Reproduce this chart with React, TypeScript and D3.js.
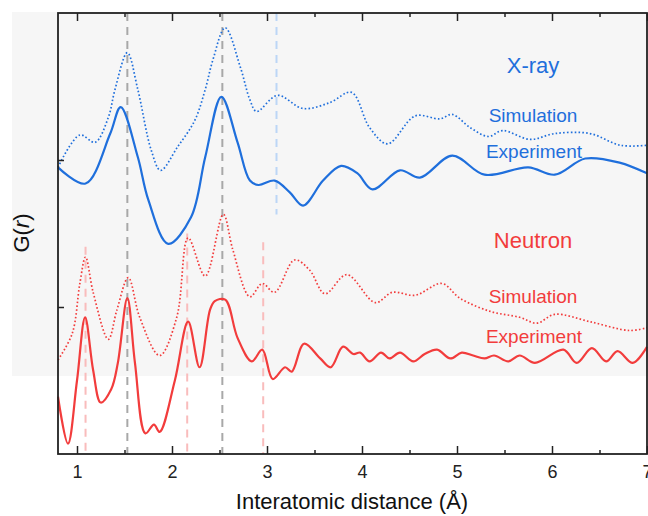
import React, { useEffect, useRef } from "react";
import * as d3 from "d3";

// G(r) curves: [r (Å), G(r) offset units]
const xraySim: [number, number][] = [
  [0.8, 0.95], [1.03, 1.17], [1.19, 1.12], [1.33, 1.29], [1.4, 1.48], [1.53, 1.73],
  [1.64, 1.48], [1.78, 1.07], [1.88, 0.93], [2.06, 1.09], [2.24, 1.27], [2.35, 1.48],
  [2.43, 1.68], [2.56, 1.9], [2.72, 1.63], [2.82, 1.41], [2.89, 1.33], [3.11, 1.44],
  [3.38, 1.35], [3.66, 1.39], [3.89, 1.46], [4.08, 1.22], [4.27, 1.11], [4.56, 1.3],
  [4.82, 1.28], [4.95, 1.31], [5.14, 1.22], [5.33, 1.16], [5.48, 1.2], [5.77, 1.14],
  [6.03, 1.18], [6.4, 1.18], [6.72, 1.1], [7.0, 1.1],
];
const xrayExp: [number, number][] = [
  [0.8, 0.95], [1.09, 0.84], [1.35, 1.18], [1.46, 1.36], [1.64, 1.02], [1.75, 0.73],
  [1.96, 0.43], [2.2, 0.61], [2.35, 1.02], [2.52, 1.43], [2.69, 1.12], [2.82, 0.86],
  [2.91, 0.83], [3.08, 0.86], [3.24, 0.78], [3.38, 0.69], [3.59, 0.86], [3.78, 0.96],
  [3.95, 0.91], [4.11, 0.8], [4.4, 0.93], [4.61, 0.88], [4.95, 1.03], [5.29, 0.9],
  [5.75, 0.95], [6.03, 0.9], [6.35, 1.01], [6.72, 0.98], [7.0, 0.91],
];
const neutronSim: [number, number][] = [
  [0.8, -0.36], [0.95, -0.18], [1.03, 0.16], [1.09, 0.34], [1.17, 0.1], [1.33, -0.22],
  [1.42, -0.02], [1.54, 0.2], [1.66, -0.07], [1.87, -0.33], [2.05, -0.07], [2.17, 0.47],
  [2.35, 0.21], [2.54, 0.63], [2.64, 0.39], [2.82, 0.07], [2.95, 0.16], [3.08, 0.1],
  [3.29, 0.32], [3.45, 0.25], [3.61, 0.09], [3.84, 0.22], [4.14, 0.03], [4.32, 0.1],
  [4.56, 0.08], [4.84, 0.16], [5.03, 0.06], [5.35, -0.03], [5.66, -0.07], [5.84, -0.11],
  [6.03, -0.05], [6.4, -0.1], [6.82, -0.16], [7.0, -0.14],
];
const neutronExp: [number, number][] = [
  [0.8, -0.61], [0.905, -0.93], [1.0, -0.5], [1.085, -0.07], [1.17, -0.43], [1.25, -0.65],
  [1.36, -0.56], [1.43, -0.38], [1.53, 0.06], [1.61, -0.38], [1.72, -0.86], [1.81, -0.8],
  [1.87, -0.85], [2.03, -0.5], [2.17, -0.1], [2.29, -0.41], [2.4, -0.02], [2.45, 0.04],
  [2.56, 0.05], [2.69, -0.21], [2.84, -0.37], [2.95, -0.29], [3.06, -0.49], [3.19, -0.41],
  [3.26, -0.44], [3.39, -0.25], [3.56, -0.35], [3.67, -0.41], [3.8, -0.27], [3.91, -0.32],
  [3.98, -0.31], [4.08, -0.37], [4.2, -0.31], [4.29, -0.35], [4.4, -0.31], [4.54, -0.37],
  [4.66, -0.32], [4.79, -0.29], [4.93, -0.35], [5.05, -0.31], [5.17, -0.33], [5.29, -0.35],
  [5.39, -0.33], [5.54, -0.37], [5.66, -0.33], [5.82, -0.38], [6.12, -0.29], [6.26, -0.38],
  [6.42, -0.28], [6.57, -0.37], [6.69, -0.3], [6.85, -0.38], [7.0, -0.27],
];

// reference lines: r, top G, bottom G
const grayMarks: [number, number, number][] = [[1.53, 2, -1], [2.53, 2, -1]];
const blueMarks: [number, number, number][] = [[3.1, 2, 0.63]];
const pinkMarks: [number, number, number][] = [[1.09, 0.41, -1], [2.16, 0.5, -1], [2.96, 0.44, -1]];

const majorTicks = [1, 2, 3, 4, 5, 6, 7];
const minorTicks = [1.5, 2.5, 3.5, 4.5, 5.5, 6.5];
const yTicks = [0, 1];

const BLUE = "#1f6fdc";
const RED = "#f23c3c";
const FONT = "'Liberation Sans', Arial, sans-serif";

const W = 648, H = 516;
const left = 58, right = 647, top = 13, bottom = 454;

export default function App() {
  const axRef = useRef<SVGGElement>(null);

  const x = d3.scaleLinear().domain([0.8, 7.0]).range([left, right]);
  const y = d3.scaleLinear().domain([-1, 2]).range([bottom, top]);

  const line = d3
    .line<[number, number]>()
    .x((d) => x(d[0]))
    .y((d) => y(d[1]))
    .curve(d3.curveCatmullRom.alpha(0.5));

  useEffect(() => {
    const g = d3.select(axRef.current);
    g.selectAll("*").remove();

    const bx = g.append("g").attr("transform", `translate(0,${bottom})`)
      .call(d3.axisBottom(x).tickValues(majorTicks).tickSize(-8).tickPadding(11).tickFormat(d3.format("d")));
    g.append("g").attr("transform", `translate(0,${bottom})`)
      .call(d3.axisBottom(x).tickValues(minorTicks).tickSize(-4).tickFormat(() => ""));
    g.append("g").attr("transform", `translate(0,${top})`)
      .call(d3.axisTop(x).tickValues(majorTicks).tickSize(-8).tickFormat(() => ""));
    g.append("g").attr("transform", `translate(0,${top})`)
      .call(d3.axisTop(x).tickValues(minorTicks).tickSize(-4).tickFormat(() => ""));
    g.append("g").attr("transform", `translate(${left},0)`)
      .call(d3.axisLeft(y).tickValues(yTicks).tickSize(-6).tickFormat(() => ""));

    g.selectAll(".domain").remove();
    g.selectAll(".tick line").attr("stroke", "#222").attr("stroke-width", 1.5);
    bx.selectAll("text").attr("font-size", 18).attr("font-family", FONT).attr("fill", "#222");
  }, []);

  const vline = (m: [number, number, number], color: string, i: number) => (
    <line key={color + i} x1={x(m[0])} x2={x(m[0])} y1={y(m[1])} y2={y(m[2])}
      stroke={color} strokeWidth={2} strokeDasharray="8 6" />
  );

  return (
    <svg width={W} height={H} style={{ position: "absolute", left: 0, top: 0 }} fontFamily={FONT}>
      <rect x={0} y={0} width={W} height={H} fill="#fff" />
      <rect x={12} y={12} width={636} height={364} fill="#f6f6f6" />

      {grayMarks.map((m, i) => vline(m, "#a8a8a8", i))}
      {blueMarks.map((m, i) => vline(m, "#bcd6f6", i))}
      {pinkMarks.map((m, i) => vline(m, "#f9bcbc", i))}

      <path d={line(xraySim) || ""} fill="none" stroke={BLUE} strokeWidth={1.7} strokeDasharray="1.6 2.2" />
      <path d={line(xrayExp) || ""} fill="none" stroke={BLUE} strokeWidth={2.2} />
      <path d={line(neutronSim) || ""} fill="none" stroke={RED} strokeWidth={1.7} strokeDasharray="1.6 2.2" />
      <path d={line(neutronExp) || ""} fill="none" stroke={RED} strokeWidth={2.2} />

      <rect x={left} y={top} width={right - left} height={bottom - top} fill="none" stroke="#222" strokeWidth={1.8} />
      <g ref={axRef} />

      <text x={533} y={73} fill={BLUE} fontSize={22} textAnchor="middle">X-ray</text>
      <text x={533} y={122} fill={BLUE} fontSize={19} textAnchor="middle">Simulation</text>
      <text x={534} y={158} fill={BLUE} fontSize={19} textAnchor="middle">Experiment</text>
      <text x={533} y={248} fill={RED} fontSize={22} textAnchor="middle">Neutron</text>
      <text x={533} y={303} fill={RED} fontSize={19} textAnchor="middle">Simulation</text>
      <text x={534} y={343} fill={RED} fontSize={19} textAnchor="middle">Experiment</text>

      <text x={352} y={509} fontSize={22} textAnchor="middle" fill="#111">Interatomic distance (Å)</text>
      <text transform="translate(29,233) rotate(-90)" fontSize={22} textAnchor="middle" fill="#111">
        G(<tspan fontStyle="italic">r</tspan>)
      </text>
    </svg>
  );
}
